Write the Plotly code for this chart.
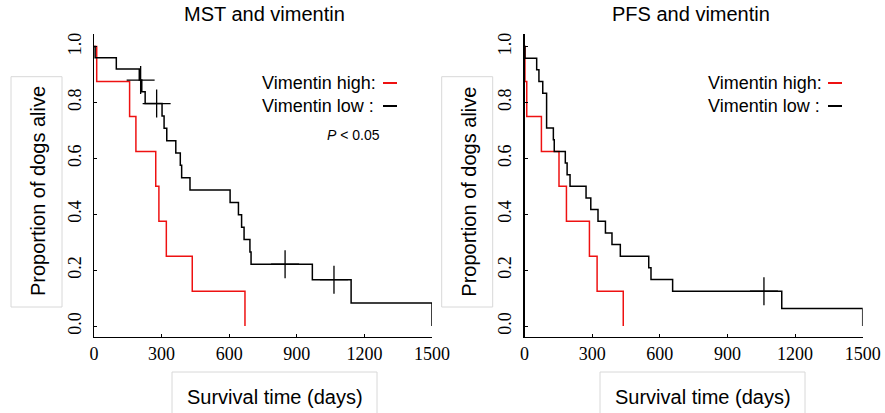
import numpy as np
import plotly.graph_objects as go

W, H = 885, 413

# ---------------- data ----------------
# MST panel
mst_high_days = [12, 158, 186, 274, 288, 321, 436, 670]
mst_high_event = [1, 1, 1, 1, 1, 1, 1, 1]
mst_low_days = [5, 99, 201, 207, 212, 227, 278, 302, 311, 323, 363, 383, 389,
                426, 604, 641, 655, 666, 692, 697, 848, 969, 1065, 1141, 1500]
mst_low_event = [1, 1, 1, 0, 1, 1, 0, 1, 1, 1, 1, 1, 1,
                 1, 1, 1, 1, 1, 1, 1, 0, 1, 0, 1, 1]
# PFS panel
pfs_high_days = [2, 10, 75, 153, 186, 288, 322, 438]
pfs_high_event = [1, 1, 1, 1, 1, 1, 1, 1]
pfs_low_days = [2, 54, 64, 81, 98, 98, 98, 128, 132, 181, 189, 202, 273, 294,
                326, 359, 388, 425, 551, 561, 657, 1062, 1141, 1500]
pfs_low_event = [1, 1, 1, 1, 1, 1, 1, 1, 1, 1, 1, 1, 1, 1,
                 1, 1, 1, 1, 1, 1, 1, 0, 1, 1]

x_ticks = [0, 300, 600, 900, 1200, 1500]
y_ticks = [0.0, 0.2, 0.4, 0.6, 0.8, 1.0]
panel_titles = ["MST and vimentin", "PFS and vimentin"]
legend_labels = ["Vimentin high:", "Vimentin low :"]
p_text = "<i>P</i> &lt; 0.05"
x_title = "Survival time (days)"
y_title = "Proportion of dogs alive"


def km(days, events):
    d = np.asarray(days, float)
    e = np.asarray(events, int)
    at_risk = len(d)
    s = 1.0
    xs, ys, cx, cy = [0.0], [1.0], [], []
    for t in np.unique(d):
        m = d == t
        de = int(e[m].sum())
        dc = int(m.sum()) - de
        if de > 0:
            s *= (at_risk - de) / at_risk
            xs.append(t)
            ys.append(s)
        if dc > 0:
            cx.append(t)
            cy.append(s)
        at_risk -= de + dc
    return xs, ys, cx, cy


def fx(p):
    return p / W


def fy(p):
    return 1 - p / H


RED = "#ee1111"
SERIF = "Liberation Serif"
SANS = "Liberation Sans"

fig = go.Figure()

panels = [
    ("x", "y", [(mst_high_days, mst_high_event, RED), (mst_low_days, mst_low_event, "black")]),
    ("x2", "y2", [(pfs_high_days, pfs_high_event, RED), (pfs_low_days, pfs_low_event, "black")]),
]
for xa, ya, series in panels:
    for days, ev, col in series:
        xs, ys, cx, cy = km(days, ev)
        fig.add_trace(go.Scatter(x=xs, y=ys, mode="lines", line=dict(color=col, width=1.5, shape="hv"),
                                 xaxis=xa, yaxis=ya, cliponaxis=False, hoverinfo="skip"))
        if cx:
            fig.add_trace(go.Scatter(x=cx, y=cy, mode="markers",
                                     marker=dict(symbol="cross-thin", size=20, line=dict(color=col, width=1.3)),
                                     xaxis=xa, yaxis=ya, cliponaxis=False, hoverinfo="skip"))

# axis placement (window pixels)
plot_x = [(94, 432), (524.5, 862.7)]
y_top, y_bot = 34, 336.7

axis_common_x = dict(range=[0, 1500], tickvals=x_ticks, showline=True, linecolor="black", linewidth=1.3,
                     ticks="inside", ticklen=3, tickcolor="black", tickwidth=1,
                     tickfont=dict(family=SERIF, size=18, color="black"),
                     showgrid=False, zeroline=False, fixedrange=True, automargin=False)
axis_common_y = dict(range=[-0.038, 1.045], tickvals=y_ticks, tickformat=".1f", tickangle=-90,
                     showline=True, linecolor="black", linewidth=1.3,
                     ticks="inside", ticklen=3, tickcolor="black", tickwidth=1,
                     tickfont=dict(family=SERIF, size=18, color="black"), ticklabelstandoff=5,
                     showgrid=False, zeroline=False, fixedrange=True, automargin=False,
                     domain=[fy(y_bot), fy(y_top)])

fig.update_layout(
    width=W, height=H, margin=dict(l=0, r=0, t=0, b=0, pad=0),
    paper_bgcolor="white", plot_bgcolor="white", showlegend=False,
    xaxis=dict(domain=[fx(plot_x[0][0]), fx(plot_x[0][1])], anchor="y", **axis_common_x),
    yaxis=dict(anchor="x", **axis_common_y),
    xaxis2=dict(domain=[fx(plot_x[1][0]), fx(plot_x[1][1])], anchor="y2", **axis_common_x),
    yaxis2=dict(anchor="x2", **axis_common_y),
)

annotations = []
shapes = []
GRAY = "#d8d8d8"

title_cx = [264.5, 691]
ybox = [(11, 62), (441.7, 492.7)]
xbox = [(172, 377), (600, 805)]
leg_x = [260, 706]
leg_line = [(383, 397), (828, 842)]

for i in range(2):
    annotations.append(dict(x=fx(title_cx[i]), y=fy(14), xref="paper", yref="paper", text=panel_titles[i],
                            showarrow=False, xanchor="center", yanchor="middle",
                            font=dict(family=SANS, size=20, color="black")))
    # y title and its faint box
    x0, x1 = ybox[i]
    shapes.append(dict(type="rect", xref="paper", yref="paper", x0=fx(x0), x1=fx(x1), y0=fy(307), y1=fy(76.7),
                       line=dict(color=GRAY, width=1), fillcolor="rgba(0,0,0,0)"))
    annotations.append(dict(x=fx((x0 + x1) / 2 + 1), y=fy(191.5), xref="paper", yref="paper", text=y_title,
                            textangle=-90, showarrow=False, xanchor="center", yanchor="middle",
                            font=dict(family=SANS, size=20, color="black")))
    # x title and its faint box
    a0, a1 = xbox[i]
    shapes.append(dict(type="rect", xref="paper", yref="paper", x0=fx(a0), x1=fx(a1), y0=fy(430), y1=fy(372),
                       line=dict(color=GRAY, width=1), fillcolor="rgba(0,0,0,0)"))
    annotations.append(dict(x=fx((a0 + a1) / 2), y=fy(397), xref="paper", yref="paper", text=x_title,
                            showarrow=False, xanchor="center", yanchor="middle",
                            font=dict(family=SANS, size=20, color="black")))
    # legend
    for j, (lab, col, yy) in enumerate(zip(legend_labels, [RED, "black"], [83, 106])):
        annotations.append(dict(x=fx(leg_x[i]), y=fy(yy), xref="paper", yref="paper", text=lab,
                                showarrow=False, xanchor="left", yanchor="middle",
                                font=dict(family=SANS, size=18, color="black")))
        l0, l1 = leg_line[i]
        shapes.append(dict(type="line", xref="paper", yref="paper", x0=fx(l0), x1=fx(l1), y0=fy(yy), y1=fy(yy),
                           line=dict(color=col, width=2)))

annotations.append(dict(x=fx(325), y=fy(135), xref="paper", yref="paper", text=p_text,
                        showarrow=False, xanchor="left", yanchor="middle",
                        font=dict(family=SANS, size=14, color="black")))

fig.update_layout(annotations=annotations, shapes=shapes)
# remove the default 8px page margin so the figure fills the 885x413 window exactly
fig.write_html("out.html", config={"displayModeBar": False, "staticPlot": True},
               post_script="document.body.style.margin='0px';document.body.style.overflow='hidden';")
